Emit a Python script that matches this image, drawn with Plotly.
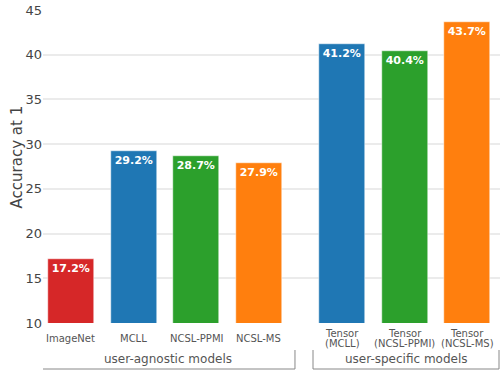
import plotly.graph_objects as go

categories = ["ImageNet", "MCLL", "NCSL-PPMI", "NCSL-MS",
              "Tensor<br>(MCLL)", "Tensor<br>(NCSL-PPMI)", "Tensor<br>(NCSL-MS)"]
positions = [0, 1, 2, 3, 4.33, 5.33, 6.33]
values = [17.2, 29.2, 28.7, 27.9, 41.2, 40.4, 43.7]
colors = ["#d62728", "#1f77b4", "#2ca02c", "#ff7f0e", "#1f77b4", "#2ca02c", "#ff7f0e"]
groups = ["user-agnostic models", "user-specific models"]
group_spans = [(-0.463, 3.578), (3.866, 6.837)]
y_title = "Accuracy at 1"

FONT = "Verdana, DejaVu Sans, sans-serif"
PLOT_H = 313.0
PLOT_W = 457.0

fig = go.Figure()
fig.add_trace(go.Bar(
    x=positions, y=values, width=0.735,
    marker=dict(color=colors, line=dict(color="white", width=0.5)),
    text=[f"{v:.1f}%" for v in values],
    textposition="inside", insidetextanchor="end",
    textfont=dict(family=FONT, size=11, color="white", weight="bold"),
    textangle=0, showlegend=False, hoverinfo="skip",
))

# category labels (tick labels), tight line spacing as in reference
for x, lab in zip(positions, categories):
    lines = lab.split("<br>")
    n = len(lines)
    for i, ln in enumerate(lines):
        offset_px = 15 + (i - (n - 1) / 2) * 10
        fig.add_annotation(x=x, y=-offset_px / PLOT_H, xref="x", yref="paper",
                           text=ln, showarrow=False, yanchor="middle",
                           font=dict(family=FONT, size=10, color="#555555"))

for (x0, x1), g in zip(group_spans, groups):
    fig.add_shape(type="path", xref="x", yref="paper",
                  path=f"M {x0},-0.0863 L {x0},-0.147 L {x1},-0.147 L {x1},-0.0863",
                  line=dict(color="#888888", width=1))
    fig.add_annotation(x=(x0 + x1) / 2, y=-0.115, xref="x", yref="paper",
                       text=g, showarrow=False, yanchor="middle",
                       font=dict(family=FONT, size=12, color="#555555"))

# y-axis title
fig.add_annotation(x=-26 / PLOT_W, y=0.529, xref="paper", yref="paper",
                   text=y_title, textangle=-90, showarrow=False,
                   xanchor="center", yanchor="middle",
                   font=dict(family=FONT, size=15, color="#444444"))

fig.update_layout(
    width=501, height=373,
    margin=dict(l=43, r=1, t=10, b=50),
    plot_bgcolor="white", paper_bgcolor="white",
    font=dict(family=FONT, color="#444444"),
    bargap=0,
)
fig.update_xaxes(range=[-0.447, 6.853], tickvals=positions, ticktext=[""] * len(positions),
                 showgrid=False, zeroline=False, showline=False, ticks="")
fig.update_yaxes(range=[10, 45], dtick=5, showgrid=True, gridcolor="#ebebeb",
                 gridwidth=1.5, zeroline=False, showline=False, ticks="",
                 tickfont=dict(family=FONT, size=13, color="#444444"))

fig.write_html("out.html")
